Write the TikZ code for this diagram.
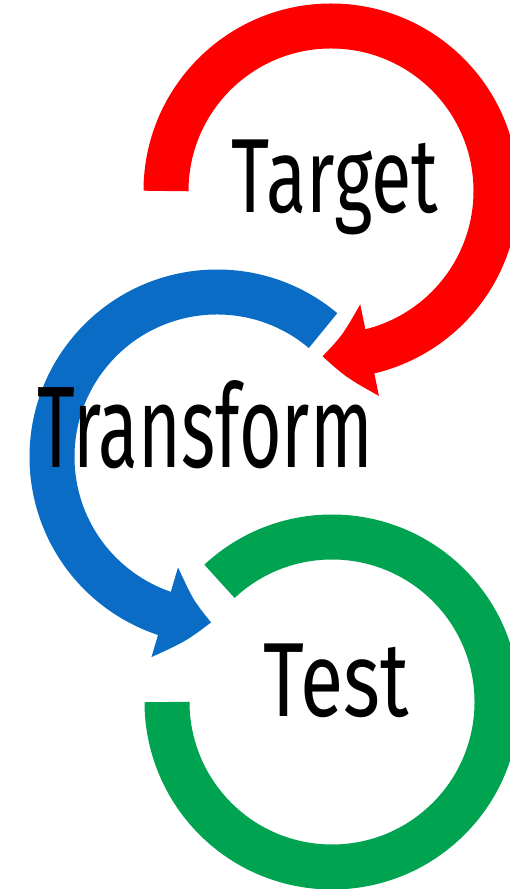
\documentclass[tikz,border=0pt]{standalone}
\usepackage{fontspec}
\setmainfont{Fira Sans}
\usetikzlibrary{arrows.meta,bending}
\definecolor{loopred}{RGB}{255,0,0}
\definecolor{loopblue}{RGB}{10,108,196}
\definecolor{loopgreen}{RGB}{0,163,80}

\begin{document}
\begin{tikzpicture}[x=0.02cm, y=0.02cm,
    ring/.style={line width=0.9cm},
    ringarrow/.style={line width=0.9cm, -{Triangle[width=1.8cm, length=0.96cm, bend]}},
    word/.style={anchor=base, inner sep=0pt, font=\fontsize{60}{60}\selectfont}]
    \clip (0,0) rectangle (510,889);

    % Centres of the loops
    \coordinate (redc) at (331,698);
    \coordinate (bluec) at (217,432);
    \coordinate (greenc) at (332,187);

    % Draw the loops
    \draw[ringarrow, loopred] ([shift={(180:165)}]redc) arc[start angle=180, end angle=-93, radius=165];
    \draw[ringarrow, loopblue] ([shift={(50:165)}]bluec) arc[start angle=50, end angle=268, radius=165];
    \draw[ring, loopgreen] ([shift={(133:165)}]greenc) arc[start angle=133, end angle=-180, radius=165];

    % Labels
    \node[word] (target) at (335,676) {\scalebox{0.7}[1]{Target}};
    \node[word, font=\fontsize{66}{66}\selectfont] (transform) at (205,421) {\scalebox{0.63}[1]{Transform}};
    \node[word] (test) at (336,172) {\scalebox{0.75}[1]{Test}};
\end{tikzpicture}
\end{document}
